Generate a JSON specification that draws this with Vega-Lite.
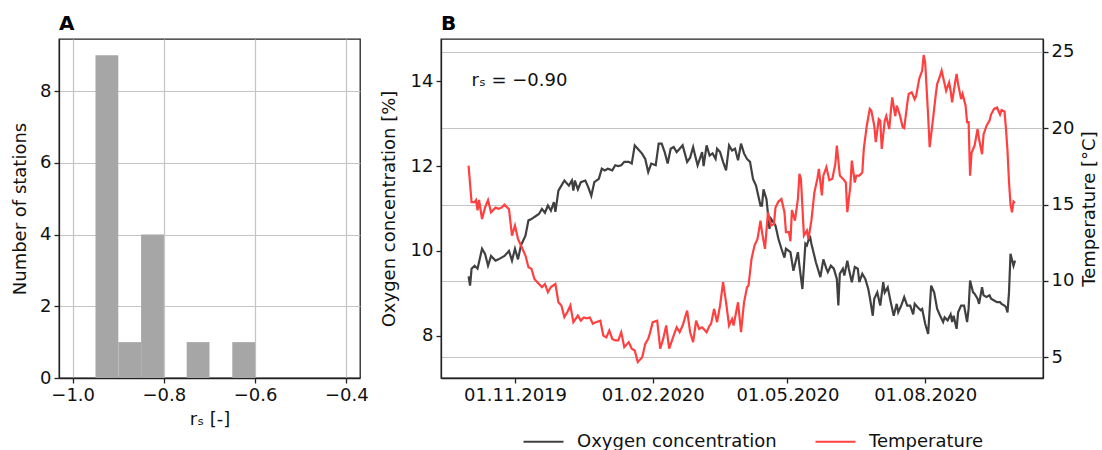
{
  "$schema": "https://vega.github.io/schema/vega-lite/v6.json",
  "background": "white",
  "padding": {"left": 10, "top": 13, "right": 5, "bottom": 5},
  "spacing": 10,
  "config": {
    "font": "DejaVu Sans",
    "view": {"stroke": "#222", "strokeWidth": 1.3},
    "axis": {
      "labelFont": "DejaVu Sans", "titleFont": "DejaVu Sans",
      "labelFontSize": 18, "titleFontSize": 18, "titleFontWeight": "normal",
      "labelColor": "#111", "titleColor": "#111",
      "domainColor": "#222", "domainWidth": 1.3,
      "tickColor": "#222", "tickWidth": 1.3, "tickSize": 5, "labelPadding": 3,
      "gridColor": "#c4c4c4", "gridWidth": 1.2
    },
    "title": {"font": "DejaVu Sans", "fontSize": 20, "fontWeight": "bold", "anchor": "start", "frame": "group", "color": "#000", "offset": 5},
    "legend": {
      "orient": "none", "legendX": 81, "legendY": 381, "direction": "horizontal",
      "symbolType": "stroke", "symbolStrokeWidth": 2.2, "symbolSize": 1600,
      "labelFont": "DejaVu Sans", "labelFontSize": 18, "labelColor": "#111", "labelLimit": 400,
      "labelOffset": 12, "columnPadding": 34
    }
  },
  "datasets": {
    "hist": [
      {"bin_start": -0.95, "bin_end": -0.90, "count": 9},
      {"bin_start": -0.90, "bin_end": -0.85, "count": 1},
      {"bin_start": -0.85, "bin_end": -0.80, "count": 4},
      {"bin_start": -0.80, "bin_end": -0.75, "count": 0},
      {"bin_start": -0.75, "bin_end": -0.70, "count": 1},
      {"bin_start": -0.70, "bin_end": -0.65, "count": 0},
      {"bin_start": -0.65, "bin_end": -0.60, "count": 1}
    ],
    "annotation": [{"date": "2019-10-03", "value": 14, "label": "rₛ = −0.90"}],
    "oxygen": [
      {"date": "2019-10-01", "oxygen": 9.40}, {"date": "2019-10-02", "oxygen": 9.18}, {"date": "2019-10-03", "oxygen": 9.58},
      {"date": "2019-10-05", "oxygen": 9.65}, {"date": "2019-10-07", "oxygen": 9.58}, {"date": "2019-10-10", "oxygen": 10.05},
      {"date": "2019-10-12", "oxygen": 9.93}, {"date": "2019-10-14", "oxygen": 9.65}, {"date": "2019-10-16", "oxygen": 9.88},
      {"date": "2019-10-19", "oxygen": 9.77}, {"date": "2019-10-21", "oxygen": 9.80}, {"date": "2019-10-23", "oxygen": 9.84},
      {"date": "2019-10-25", "oxygen": 9.88}, {"date": "2019-10-28", "oxygen": 10.00}, {"date": "2019-10-30", "oxygen": 9.77},
      {"date": "2019-11-01", "oxygen": 10.05}, {"date": "2019-11-03", "oxygen": 9.80}, {"date": "2019-11-05", "oxygen": 10.13},
      {"date": "2019-11-08", "oxygen": 10.36}, {"date": "2019-11-10", "oxygen": 10.72}, {"date": "2019-11-12", "oxygen": 10.75},
      {"date": "2019-11-14", "oxygen": 10.80}, {"date": "2019-11-17", "oxygen": 10.87}, {"date": "2019-11-19", "oxygen": 10.99},
      {"date": "2019-11-21", "oxygen": 10.90}, {"date": "2019-11-23", "oxygen": 11.07}, {"date": "2019-11-25", "oxygen": 10.95},
      {"date": "2019-11-27", "oxygen": 11.15}, {"date": "2019-11-28", "oxygen": 10.92}, {"date": "2019-11-30", "oxygen": 11.42},
      {"date": "2019-12-02", "oxygen": 11.54}, {"date": "2019-12-04", "oxygen": 11.66}, {"date": "2019-12-07", "oxygen": 11.54},
      {"date": "2019-12-09", "oxygen": 11.66}, {"date": "2019-12-10", "oxygen": 11.42}, {"date": "2019-12-11", "oxygen": 11.66},
      {"date": "2019-12-13", "oxygen": 11.45}, {"date": "2019-12-15", "oxygen": 11.62}, {"date": "2019-12-18", "oxygen": 11.66},
      {"date": "2019-12-20", "oxygen": 11.50}, {"date": "2019-12-22", "oxygen": 11.30}, {"date": "2019-12-24", "oxygen": 11.62},
      {"date": "2019-12-27", "oxygen": 11.70}, {"date": "2019-12-29", "oxygen": 11.94}, {"date": "2019-12-31", "oxygen": 11.90},
      {"date": "2020-01-02", "oxygen": 11.94}, {"date": "2020-01-05", "oxygen": 11.90}, {"date": "2020-01-07", "oxygen": 12.02},
      {"date": "2020-01-09", "oxygen": 12.00}, {"date": "2020-01-11", "oxygen": 12.02}, {"date": "2020-01-13", "oxygen": 12.10},
      {"date": "2020-01-16", "oxygen": 12.10}, {"date": "2020-01-18", "oxygen": 12.06}, {"date": "2020-01-20", "oxygen": 12.49},
      {"date": "2020-01-22", "oxygen": 12.41}, {"date": "2020-01-25", "oxygen": 12.29}, {"date": "2020-01-27", "oxygen": 12.17},
      {"date": "2020-01-29", "oxygen": 11.86}, {"date": "2020-01-31", "oxygen": 12.06}, {"date": "2020-02-03", "oxygen": 12.02},
      {"date": "2020-02-05", "oxygen": 12.53}, {"date": "2020-02-07", "oxygen": 12.53}, {"date": "2020-02-09", "oxygen": 12.33},
      {"date": "2020-02-11", "oxygen": 12.06}, {"date": "2020-02-13", "oxygen": 12.41}, {"date": "2020-02-15", "oxygen": 12.45},
      {"date": "2020-02-17", "oxygen": 12.33}, {"date": "2020-02-19", "oxygen": 12.41}, {"date": "2020-02-21", "oxygen": 12.49},
      {"date": "2020-02-24", "oxygen": 12.10}, {"date": "2020-02-26", "oxygen": 12.20}, {"date": "2020-02-28", "oxygen": 12.45},
      {"date": "2020-02-29", "oxygen": 12.30}, {"date": "2020-03-02", "oxygen": 12.02}, {"date": "2020-03-05", "oxygen": 12.33},
      {"date": "2020-03-06", "oxygen": 12.00}, {"date": "2020-03-08", "oxygen": 12.49}, {"date": "2020-03-10", "oxygen": 12.25},
      {"date": "2020-03-12", "oxygen": 12.30}, {"date": "2020-03-14", "oxygen": 12.17}, {"date": "2020-03-15", "oxygen": 12.41},
      {"date": "2020-03-17", "oxygen": 12.33}, {"date": "2020-03-19", "oxygen": 12.10}, {"date": "2020-03-21", "oxygen": 11.90},
      {"date": "2020-03-23", "oxygen": 12.49}, {"date": "2020-03-25", "oxygen": 12.37}, {"date": "2020-03-27", "oxygen": 12.41},
      {"date": "2020-03-29", "oxygen": 12.14}, {"date": "2020-03-31", "oxygen": 12.53}, {"date": "2020-04-02", "oxygen": 12.30},
      {"date": "2020-04-04", "oxygen": 12.17}, {"date": "2020-04-06", "oxygen": 12.10}, {"date": "2020-04-08", "oxygen": 11.70},
      {"date": "2020-04-10", "oxygen": 11.54}, {"date": "2020-04-13", "oxygen": 11.07}, {"date": "2020-04-14", "oxygen": 11.07},
      {"date": "2020-04-15", "oxygen": 11.45}, {"date": "2020-04-17", "oxygen": 11.22}, {"date": "2020-04-19", "oxygen": 10.52},
      {"date": "2020-04-20", "oxygen": 10.76}, {"date": "2020-04-23", "oxygen": 10.60}, {"date": "2020-04-25", "oxygen": 10.28},
      {"date": "2020-04-27", "oxygen": 10.05}, {"date": "2020-04-29", "oxygen": 9.84}, {"date": "2020-04-30", "oxygen": 10.05},
      {"date": "2020-05-03", "oxygen": 9.97}, {"date": "2020-05-05", "oxygen": 9.53}, {"date": "2020-05-08", "oxygen": 9.97},
      {"date": "2020-05-09", "oxygen": 9.65}, {"date": "2020-05-11", "oxygen": 9.10}, {"date": "2020-05-13", "oxygen": 10.17},
      {"date": "2020-05-14", "oxygen": 10.13}, {"date": "2020-05-16", "oxygen": 10.36}, {"date": "2020-05-17", "oxygen": 10.17},
      {"date": "2020-05-19", "oxygen": 9.88}, {"date": "2020-05-20", "oxygen": 9.73}, {"date": "2020-05-22", "oxygen": 9.50},
      {"date": "2020-05-23", "oxygen": 9.38}, {"date": "2020-05-25", "oxygen": 9.80}, {"date": "2020-05-27", "oxygen": 9.58},
      {"date": "2020-05-28", "oxygen": 9.50}, {"date": "2020-05-30", "oxygen": 9.65}, {"date": "2020-06-01", "oxygen": 9.58},
      {"date": "2020-06-03", "oxygen": 9.34}, {"date": "2020-06-04", "oxygen": 8.71}, {"date": "2020-06-05", "oxygen": 9.46},
      {"date": "2020-06-07", "oxygen": 9.58}, {"date": "2020-06-08", "oxygen": 9.42}, {"date": "2020-06-10", "oxygen": 9.77},
      {"date": "2020-06-11", "oxygen": 9.58}, {"date": "2020-06-13", "oxygen": 9.26}, {"date": "2020-06-15", "oxygen": 9.62},
      {"date": "2020-06-17", "oxygen": 9.58}, {"date": "2020-06-18", "oxygen": 9.26}, {"date": "2020-06-20", "oxygen": 9.46},
      {"date": "2020-06-22", "oxygen": 9.34}, {"date": "2020-06-24", "oxygen": 9.10}, {"date": "2020-06-25", "oxygen": 8.91},
      {"date": "2020-06-27", "oxygen": 8.47}, {"date": "2020-06-28", "oxygen": 8.87}, {"date": "2020-06-30", "oxygen": 9.02},
      {"date": "2020-07-02", "oxygen": 8.71}, {"date": "2020-07-04", "oxygen": 9.26}, {"date": "2020-07-05", "oxygen": 9.02},
      {"date": "2020-07-07", "oxygen": 9.14}, {"date": "2020-07-09", "oxygen": 8.79}, {"date": "2020-07-11", "oxygen": 8.47},
      {"date": "2020-07-13", "oxygen": 8.75}, {"date": "2020-07-14", "oxygen": 8.55}, {"date": "2020-07-16", "oxygen": 8.71},
      {"date": "2020-07-18", "oxygen": 8.91}, {"date": "2020-07-20", "oxygen": 8.71}, {"date": "2020-07-22", "oxygen": 8.71},
      {"date": "2020-07-24", "oxygen": 8.50}, {"date": "2020-07-25", "oxygen": 8.75}, {"date": "2020-07-27", "oxygen": 8.67},
      {"date": "2020-07-29", "oxygen": 8.60}, {"date": "2020-07-30", "oxygen": 8.63}, {"date": "2020-08-01", "oxygen": 8.28},
      {"date": "2020-08-03", "oxygen": 8.04}, {"date": "2020-08-05", "oxygen": 9.18}, {"date": "2020-08-07", "oxygen": 9.02},
      {"date": "2020-08-09", "oxygen": 8.63}, {"date": "2020-08-11", "oxygen": 8.47}, {"date": "2020-08-13", "oxygen": 8.32},
      {"date": "2020-08-14", "oxygen": 8.43}, {"date": "2020-08-16", "oxygen": 8.36}, {"date": "2020-08-18", "oxygen": 8.50},
      {"date": "2020-08-19", "oxygen": 8.32}, {"date": "2020-08-20", "oxygen": 8.47}, {"date": "2020-08-22", "oxygen": 8.16},
      {"date": "2020-08-23", "oxygen": 8.55}, {"date": "2020-08-25", "oxygen": 8.71}, {"date": "2020-08-27", "oxygen": 8.71},
      {"date": "2020-08-29", "oxygen": 8.32}, {"date": "2020-08-30", "oxygen": 8.63}, {"date": "2020-08-31", "oxygen": 9.30},
      {"date": "2020-09-02", "oxygen": 9.02}, {"date": "2020-09-03", "oxygen": 8.99}, {"date": "2020-09-05", "oxygen": 8.87},
      {"date": "2020-09-06", "oxygen": 8.75}, {"date": "2020-09-08", "oxygen": 9.14}, {"date": "2020-09-09", "oxygen": 8.95},
      {"date": "2020-09-11", "oxygen": 8.91}, {"date": "2020-09-13", "oxygen": 8.95}, {"date": "2020-09-14", "oxygen": 8.87},
      {"date": "2020-09-16", "oxygen": 8.83}, {"date": "2020-09-18", "oxygen": 8.79}, {"date": "2020-09-20", "oxygen": 8.79},
      {"date": "2020-09-21", "oxygen": 8.75}, {"date": "2020-09-23", "oxygen": 8.71}, {"date": "2020-09-24", "oxygen": 8.67},
      {"date": "2020-09-25", "oxygen": 8.55}, {"date": "2020-09-26", "oxygen": 9.02}, {"date": "2020-09-27", "oxygen": 9.93},
      {"date": "2020-09-29", "oxygen": 9.65}, {"date": "2020-09-30", "oxygen": 9.77}
    ],
    "temperature": [
      {"date": "2019-10-01", "temperature": 17.55}, {"date": "2019-10-03", "temperature": 15.16}, {"date": "2019-10-05", "temperature": 15.16},
      {"date": "2019-10-06", "temperature": 15.30}, {"date": "2019-10-07", "temperature": 14.63}, {"date": "2019-10-08", "temperature": 15.30},
      {"date": "2019-10-10", "temperature": 14.06}, {"date": "2019-10-12", "temperature": 14.80}, {"date": "2019-10-14", "temperature": 15.30},
      {"date": "2019-10-16", "temperature": 14.50}, {"date": "2019-10-19", "temperature": 14.80}, {"date": "2019-10-21", "temperature": 14.72},
      {"date": "2019-10-23", "temperature": 14.80}, {"date": "2019-10-25", "temperature": 15.00}, {"date": "2019-10-28", "temperature": 14.70},
      {"date": "2019-10-30", "temperature": 12.97}, {"date": "2019-11-01", "temperature": 13.63}, {"date": "2019-11-03", "temperature": 12.75},
      {"date": "2019-11-05", "temperature": 12.32}, {"date": "2019-11-08", "temperature": 11.66}, {"date": "2019-11-10", "temperature": 10.90},
      {"date": "2019-11-12", "temperature": 10.80}, {"date": "2019-11-14", "temperature": 10.13}, {"date": "2019-11-17", "temperature": 9.80},
      {"date": "2019-11-19", "temperature": 9.59}, {"date": "2019-11-21", "temperature": 9.80}, {"date": "2019-11-23", "temperature": 9.26},
      {"date": "2019-11-25", "temperature": 9.60}, {"date": "2019-11-28", "temperature": 9.80}, {"date": "2019-11-30", "temperature": 8.60},
      {"date": "2019-12-02", "temperature": 8.39}, {"date": "2019-12-04", "temperature": 7.63}, {"date": "2019-12-06", "temperature": 7.96},
      {"date": "2019-12-08", "temperature": 8.39}, {"date": "2019-12-10", "temperature": 7.30}, {"date": "2019-12-13", "temperature": 7.73},
      {"date": "2019-12-15", "temperature": 7.40}, {"date": "2019-12-17", "temperature": 7.60}, {"date": "2019-12-19", "temperature": 7.55},
      {"date": "2019-12-21", "temperature": 7.60}, {"date": "2019-12-23", "temperature": 7.19}, {"date": "2019-12-25", "temperature": 7.30},
      {"date": "2019-12-28", "temperature": 7.40}, {"date": "2019-12-30", "temperature": 6.42}, {"date": "2020-01-01", "temperature": 6.30},
      {"date": "2020-01-03", "temperature": 6.75}, {"date": "2020-01-05", "temperature": 6.20}, {"date": "2020-01-07", "temperature": 6.10},
      {"date": "2020-01-09", "temperature": 6.10}, {"date": "2020-01-11", "temperature": 6.64}, {"date": "2020-01-13", "temperature": 5.66},
      {"date": "2020-01-16", "temperature": 5.99}, {"date": "2020-01-18", "temperature": 5.56}, {"date": "2020-01-20", "temperature": 5.44},
      {"date": "2020-01-22", "temperature": 4.68}, {"date": "2020-01-25", "temperature": 5.00}, {"date": "2020-01-27", "temperature": 5.87},
      {"date": "2020-01-29", "temperature": 6.20}, {"date": "2020-01-30", "temperature": 6.53}, {"date": "2020-02-01", "temperature": 7.30},
      {"date": "2020-02-04", "temperature": 7.40}, {"date": "2020-02-06", "temperature": 5.56}, {"date": "2020-02-08", "temperature": 6.20},
      {"date": "2020-02-10", "temperature": 7.08}, {"date": "2020-02-12", "temperature": 5.56}, {"date": "2020-02-15", "temperature": 6.42},
      {"date": "2020-02-17", "temperature": 6.96}, {"date": "2020-02-19", "temperature": 6.64}, {"date": "2020-02-21", "temperature": 7.08},
      {"date": "2020-02-24", "temperature": 8.06}, {"date": "2020-02-26", "temperature": 6.64}, {"date": "2020-02-28", "temperature": 5.99},
      {"date": "2020-03-01", "temperature": 7.40}, {"date": "2020-03-03", "temperature": 6.86}, {"date": "2020-03-05", "temperature": 6.96},
      {"date": "2020-03-08", "temperature": 6.64}, {"date": "2020-03-10", "temperature": 7.08}, {"date": "2020-03-11", "temperature": 7.19},
      {"date": "2020-03-13", "temperature": 8.17}, {"date": "2020-03-15", "temperature": 7.30}, {"date": "2020-03-17", "temperature": 8.39},
      {"date": "2020-03-19", "temperature": 9.92}, {"date": "2020-03-21", "temperature": 8.60}, {"date": "2020-03-23", "temperature": 7.08},
      {"date": "2020-03-25", "temperature": 7.50}, {"date": "2020-03-26", "temperature": 7.08}, {"date": "2020-03-29", "temperature": 8.60},
      {"date": "2020-03-31", "temperature": 6.64}, {"date": "2020-04-02", "temperature": 8.60}, {"date": "2020-04-04", "temperature": 9.59},
      {"date": "2020-04-05", "temperature": 9.70}, {"date": "2020-04-07", "temperature": 11.44}, {"date": "2020-04-09", "temperature": 12.32},
      {"date": "2020-04-11", "temperature": 12.75}, {"date": "2020-04-13", "temperature": 13.95}, {"date": "2020-04-14", "temperature": 13.20},
      {"date": "2020-04-16", "temperature": 12.10}, {"date": "2020-04-18", "temperature": 14.50}, {"date": "2020-04-20", "temperature": 13.63},
      {"date": "2020-04-22", "temperature": 13.74}, {"date": "2020-04-23", "temperature": 14.80}, {"date": "2020-04-25", "temperature": 15.20},
      {"date": "2020-04-27", "temperature": 15.37}, {"date": "2020-04-29", "temperature": 14.50}, {"date": "2020-04-30", "temperature": 13.20},
      {"date": "2020-05-02", "temperature": 13.20}, {"date": "2020-05-03", "temperature": 12.60}, {"date": "2020-05-04", "temperature": 14.65},
      {"date": "2020-05-06", "temperature": 13.95}, {"date": "2020-05-08", "temperature": 15.37}, {"date": "2020-05-09", "temperature": 17.01},
      {"date": "2020-05-10", "temperature": 16.70}, {"date": "2020-05-12", "temperature": 12.97}, {"date": "2020-05-14", "temperature": 13.30},
      {"date": "2020-05-15", "temperature": 12.75}, {"date": "2020-05-17", "temperature": 13.95}, {"date": "2020-05-19", "temperature": 15.80},
      {"date": "2020-05-21", "temperature": 16.70}, {"date": "2020-05-22", "temperature": 17.34}, {"date": "2020-05-24", "temperature": 15.60},
      {"date": "2020-05-25", "temperature": 16.90}, {"date": "2020-05-27", "temperature": 17.45}, {"date": "2020-05-29", "temperature": 16.60},
      {"date": "2020-05-31", "temperature": 16.70}, {"date": "2020-06-02", "temperature": 17.67}, {"date": "2020-06-03", "temperature": 18.86},
      {"date": "2020-06-05", "temperature": 16.90}, {"date": "2020-06-07", "temperature": 16.70}, {"date": "2020-06-09", "temperature": 16.45},
      {"date": "2020-06-10", "temperature": 14.50}, {"date": "2020-06-12", "temperature": 16.20}, {"date": "2020-06-13", "temperature": 17.88},
      {"date": "2020-06-15", "temperature": 16.45}, {"date": "2020-06-16", "temperature": 16.90}, {"date": "2020-06-18", "temperature": 16.90},
      {"date": "2020-06-20", "temperature": 17.10}, {"date": "2020-06-21", "temperature": 18.65}, {"date": "2020-06-23", "temperature": 20.17},
      {"date": "2020-06-25", "temperature": 21.27}, {"date": "2020-06-26", "temperature": 21.16}, {"date": "2020-06-28", "temperature": 20.17},
      {"date": "2020-06-29", "temperature": 19.09}, {"date": "2020-07-01", "temperature": 20.60}, {"date": "2020-07-02", "temperature": 20.50},
      {"date": "2020-07-03", "temperature": 18.65}, {"date": "2020-07-05", "temperature": 20.50}, {"date": "2020-07-06", "temperature": 20.80},
      {"date": "2020-07-08", "temperature": 19.95}, {"date": "2020-07-09", "temperature": 21.05}, {"date": "2020-07-10", "temperature": 22.03},
      {"date": "2020-07-12", "temperature": 20.80}, {"date": "2020-07-13", "temperature": 21.48}, {"date": "2020-07-15", "temperature": 20.90},
      {"date": "2020-07-17", "temperature": 20.06}, {"date": "2020-07-18", "temperature": 20.00}, {"date": "2020-07-20", "temperature": 21.59},
      {"date": "2020-07-21", "temperature": 22.25}, {"date": "2020-07-23", "temperature": 22.36}, {"date": "2020-07-25", "temperature": 21.91},
      {"date": "2020-07-26", "temperature": 22.14}, {"date": "2020-07-28", "temperature": 23.23}, {"date": "2020-07-30", "temperature": 23.78},
      {"date": "2020-07-31", "temperature": 24.80}, {"date": "2020-08-01", "temperature": 24.30}, {"date": "2020-08-03", "temperature": 20.80},
      {"date": "2020-08-04", "temperature": 18.76}, {"date": "2020-08-06", "temperature": 20.40}, {"date": "2020-08-08", "temperature": 22.14},
      {"date": "2020-08-09", "temperature": 22.90}, {"date": "2020-08-11", "temperature": 23.45}, {"date": "2020-08-12", "temperature": 23.78},
      {"date": "2020-08-14", "temperature": 22.90}, {"date": "2020-08-15", "temperature": 22.46}, {"date": "2020-08-17", "temperature": 23.00},
      {"date": "2020-08-18", "temperature": 22.46}, {"date": "2020-08-19", "temperature": 21.70}, {"date": "2020-08-21", "temperature": 23.00},
      {"date": "2020-08-22", "temperature": 23.56}, {"date": "2020-08-23", "temperature": 22.90}, {"date": "2020-08-25", "temperature": 21.91},
      {"date": "2020-08-26", "temperature": 22.25}, {"date": "2020-08-28", "temperature": 21.48}, {"date": "2020-08-29", "temperature": 20.40},
      {"date": "2020-08-30", "temperature": 20.40}, {"date": "2020-08-31", "temperature": 16.90}, {"date": "2020-09-01", "temperature": 18.40},
      {"date": "2020-09-03", "temperature": 18.86}, {"date": "2020-09-05", "temperature": 19.95}, {"date": "2020-09-06", "temperature": 19.30},
      {"date": "2020-09-08", "temperature": 18.30}, {"date": "2020-09-09", "temperature": 19.60}, {"date": "2020-09-11", "temperature": 20.17},
      {"date": "2020-09-13", "temperature": 20.50}, {"date": "2020-09-14", "temperature": 20.90}, {"date": "2020-09-16", "temperature": 21.27},
      {"date": "2020-09-18", "temperature": 21.36}, {"date": "2020-09-20", "temperature": 20.90}, {"date": "2020-09-21", "temperature": 21.20},
      {"date": "2020-09-23", "temperature": 21.10}, {"date": "2020-09-24", "temperature": 19.95}, {"date": "2020-09-25", "temperature": 18.50},
      {"date": "2020-09-26", "temperature": 16.50}, {"date": "2020-09-27", "temperature": 15.00}, {"date": "2020-09-28", "temperature": 14.50},
      {"date": "2020-09-29", "temperature": 15.20}, {"date": "2020-09-30", "temperature": 15.10}
    ]
  },
  "resolve": {"scale": {"color": "independent"}, "legend": {"color": "independent"}},
  "hconcat": [
    {
      "width": 301,
      "height": 339,
      "title": {"text": "A"},
      "data": {"name": "hist"},
      "mark": {"type": "rect", "color": "#a6a6a6"},
      "encoding": {
        "x": {"field": "bin_start", "type": "quantitative",
          "scale": {"domain": [-1.03, -0.37], "nice": false, "zero": false},
          "axis": {"values": [-1.0, -0.8, -0.6, -0.4], "format": ".1f", "title": "rₛ [-]", "grid": true, "titlePadding": 6}},
        "x2": {"field": "bin_end"},
        "y": {"field": "count", "type": "quantitative",
          "scale": {"domain": [0, 9.45], "nice": false},
          "axis": {"values": [0, 2, 4, 6, 8], "title": "Number of stations", "grid": true, "titlePadding": 10}},
        "y2": {"datum": 0}
      }
    },
    {
      "width": 602,
      "height": 339,
      "title": {"text": "B"},
      "encoding": {
        "x": {"field": "date", "type": "temporal",
          "scale": {"type": "utc", "domain": [
            {"year": 2019, "month": 9, "date": 12, "hours": 14, "utc": true},
            {"year": 2020, "month": 10, "date": 18, "hours": 17, "utc": true}]},
          "axis": {"title": null, "grid": false, "format": "%d.%m.%Y",
            "values": [
              {"year": 2019, "month": 11, "date": 1, "utc": true},
              {"year": 2020, "month": 2, "date": 1, "utc": true},
              {"year": 2020, "month": 5, "date": 1, "utc": true},
              {"year": 2020, "month": 8, "date": 1, "utc": true}]}}
      },
      "layer": [
        {
          "layer": [
            {
              "data": {"name": "oxygen"},
              "mark": {"type": "line", "strokeWidth": 2.2},
              "encoding": {
                "y": {"field": "oxygen", "type": "quantitative",
                  "scale": {"domain": [7.0, 15.0], "nice": false, "zero": false},
                  "axis": {"orient": "left", "grid": false, "values": [8, 10, 12, 14], "title": "Oxygen concentration [%]", "titlePadding": 12}},
                "color": {"datum": "Oxygen concentration", "type": "nominal",
                  "scale": {"domain": ["Oxygen concentration", "Temperature"], "range": ["#404040", "#ff4040"]},
                  "legend": {"title": null}}
              }
            },
            {
              "data": {"name": "annotation"},
              "mark": {"type": "text", "align": "left", "baseline": "middle", "fontSize": 18, "font": "DejaVu Sans", "color": "#111"},
              "encoding": {
                "y": {"field": "value", "type": "quantitative", "scale": {"domain": [7.0, 15.0], "nice": false, "zero": false}},
                "text": {"field": "label"}
              }
            }
          ]
        },
        {
          "data": {"name": "temperature"},
          "mark": {"type": "line", "strokeWidth": 2.2},
          "encoding": {
            "y": {"field": "temperature", "type": "quantitative",
              "scale": {"domain": [3.64, 25.85], "nice": false, "zero": false},
              "axis": {"orient": "right", "grid": true, "values": [5, 10, 15, 20, 25], "title": "Temperature [°C]", "titleAngle": 270, "titleBaseline": "top", "titlePadding": 7}},
            "color": {"datum": "Temperature", "type": "nominal",
              "scale": {"domain": ["Oxygen concentration", "Temperature"], "range": ["#404040", "#ff4040"]},
              "legend": {"title": null}}
          }
        }
      ],
      "resolve": {"scale": {"y": "independent"}}
    }
  ]
}
